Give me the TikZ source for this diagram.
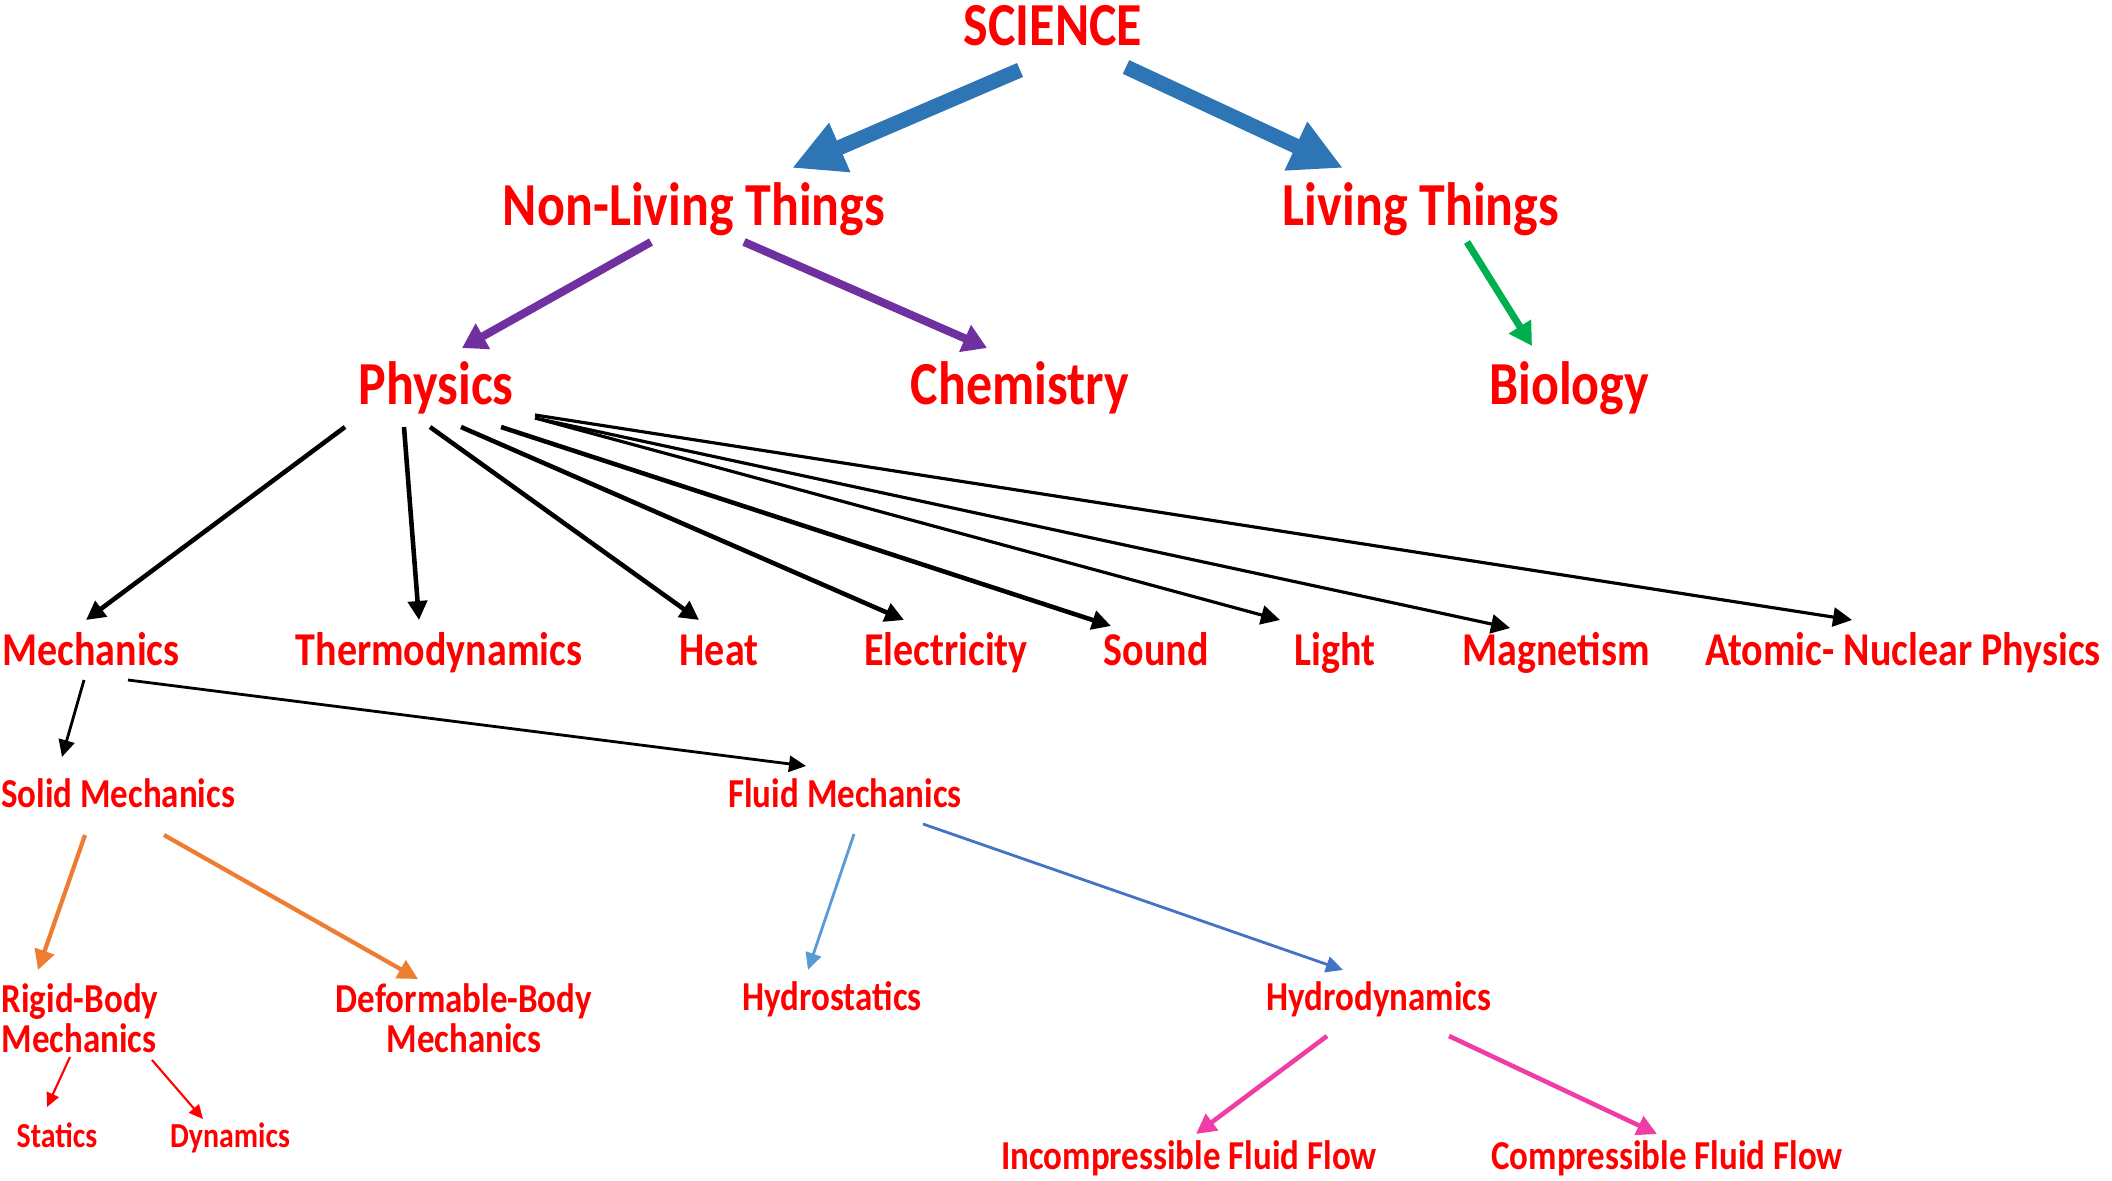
\documentclass[tikz,border=0pt]{standalone}
\usepackage{fontspec}
\newfontfamily\lblfont{Carlito}[FakeStretch=0.85]
\usepackage{xcolor}
\usetikzlibrary{arrows.meta}

\definecolor{txtred}{HTML}{FF0000}
\definecolor{bigblue}{HTML}{2E75B6}
\definecolor{purp}{HTML}{7030A0}
\definecolor{grn}{HTML}{00B050}
\definecolor{orng}{HTML}{ED7D31}
\definecolor{ltblue}{HTML}{5B9BD5}
\definecolor{midblue}{HTML}{4472C4}
\definecolor{pnk}{HTML}{F03CA5}

\begin{document}
\begin{tikzpicture}[x=0.1mm, y=-0.1mm,
    lbl/.style={text=txtred, inner sep=0pt, text height=0.64em, text depth=0pt},
    topl/.style={lbl, text height=0.86em, font=\lblfont\bfseries\fontsize{17.4}{20}\selectfont},
    subl/.style={lbl, text height=0.8em, font=\lblfont\bfseries\fontsize{13.4}{16}\selectfont},
    smll/.style={lbl, text height=0.72em, font=\lblfont\bfseries\fontsize{11.7}{14}\selectfont},
    tinyl/.style={lbl, font=\lblfont\bfseries\fontsize{10}{12}\selectfont},
    twol/.style={text=txtred, inner sep=0pt, font=\lblfont\bfseries\fontsize{11.7}{11.4}\selectfont},
    bigarr/.style={bigblue, line width=4.3pt, -{Triangle[length=5.2mm,width=5mm]}},
    purarr/.style={purp, line width=2.3pt, -{Triangle[length=2.4mm,width=2.8mm]}},
    grnarr/.style={grn, line width=2pt, -{Triangle[length=2.3mm,width=2.5mm]}},
    blkarr/.style={black, line width=1.3pt, -{Triangle[length=1.9mm,width=1.9mm]}},
    thinarr/.style={black, line width=0.9pt, -{Triangle[length=1.9mm,width=1.9mm]}},
    mecharr/.style={black, line width=0.8pt, -{Triangle[length=1.7mm,width=1.6mm]}},
    orgarr/.style={orng, line width=1.2pt, -{Triangle[length=2mm,width=2mm]}},
    lbarr/.style={ltblue, line width=0.8pt, -{Triangle[length=1.7mm,width=1.6mm]}},
    mbarr/.style={midblue, line width=0.8pt, -{Triangle[length=1.7mm,width=1.6mm]}},
    redarr/.style={txtred, line width=0.6pt, -{Triangle[length=1.4mm,width=1.3mm]}},
    pnkarr/.style={pnk, line width=1.3pt, -{Triangle[length=2mm,width=2mm]}}]
    \useasboundingbox (0,0) rectangle (2112,1180);

    % Top levels
    \node[topl] (sci) at (1053,30) {SCIENCE};
    \node[topl] (nonliv) at (694,210) {Non-Living Things};
    \node[topl] (liv) at (1421,210) {Living Things};
    \node[topl] (phys) at (436,389) {Physics};
    \node[topl] (chem) at (1020,389) {Chemistry};
    \node[topl] (bio) at (1569,389) {Biology};

    % Branches of physics
    \node[subl] (mech) at (91,651) {Mechanics};
    \node[subl] (thermo) at (439,651) {Thermodynamics};
    \node[subl] (heat) at (719,651) {Heat};
    \node[subl] (elec) at (946,651) {Electricity};
    \node[subl] (sound) at (1156,651) {Sound};
    \node[subl] (light) at (1335,651) {Light};
    \node[subl] (magn) at (1556,651) {Magnetism};
    \node[subl] (atom) at (1903,651) {Atomic- Nuclear Physics};

    % Mechanics
    \node[smll] (solid) at (118,795) {Solid Mechanics};
    \node[smll] (fluid) at (845,795) {Fluid Mechanics};
    \node[twol, align=left, anchor=west] (rigid) at (1,1018) {Rigid-Body\\Mechanics};
    \node[twol, align=center] (deform) at (464,1018) {Deformable-Body\\Mechanics};
    \node[smll] (hstat) at (832,998) {Hydrostatics};
    \node[smll] (hdyn) at (1379,998) {Hydrodynamics};
    \node[tinyl] (stat) at (57,1136) {Statics};
    \node[tinyl] (dyn) at (230,1136) {Dynamics};
    \node[smll] (incomp) at (1189,1157) {Incompressible Fluid Flow};
    \node[smll] (comp) at (1667,1157) {Compressible Fluid Flow};

    % Arrows
    \draw[bigarr] ([shift={(-33,40)}]sci.center) -- ([shift={(98,-42)}]nonliv.center);
    \draw[bigarr] ([shift={(73,37)}]sci.center) -- ([shift={(-78,-42)}]liv.center);
    \draw[purarr] ([shift={(-43,32)}]nonliv.center) -- ([shift={(26,-41)}]phys.center);
    \draw[purarr] ([shift={(50,32)}]nonliv.center) -- ([shift={(-33,-41)}]chem.center);
    \draw[grnarr] ([shift={(46,32)}]liv.center) -- ([shift={(-37,-43)}]bio.center);

    \draw[blkarr] ([shift={(-91,38)}]phys.center) -- ([shift={(-5,-31)}]mech.center);
    \draw[blkarr] ([shift={(-32,38)}]phys.center) -- ([shift={(-20,-31)}]thermo.center);
    \draw[blkarr] ([shift={(-6,38)}]phys.center) -- ([shift={(-20,-31)}]heat.center);
    \draw[blkarr] ([shift={(25,38)}]phys.center) -- ([shift={(-42,-31)}]elec.center);
    \draw[blkarr] ([shift={(65,38)}]phys.center) -- ([shift={(-45,-25)}]sound.center);
    \draw[thinarr] ([shift={(99,29)}]phys.center) -- ([shift={(-55,-31)}]light.center);
    \draw[thinarr] ([shift={(99,29)}]phys.center) -- ([shift={(-46,-23)}]magn.center);
    \draw[thinarr] ([shift={(99,26)}]phys.center) -- ([shift={(-51,-31)}]atom.center);

    \draw[mecharr] ([shift={(-7,29)}]mech.center) -- ([shift={(-56,-38)}]solid.center);
    \draw[mecharr] ([shift={(37,29)}]mech.center) -- ([shift={(-39,-29)}]fluid.center);
    \draw[orgarr] ([shift={(-33,40)}]solid.center) -- ([shift={(37,-48)}]rigid.west);
    \draw[orgarr] ([shift={(46,40)}]solid.center) -- ([shift={(-46,-39)}]deform.center);
    \draw[lbarr] ([shift={(9,39)}]fluid.center) -- ([shift={(-24,-28)}]hstat.center);
    \draw[mbarr] ([shift={(78,29)}]fluid.center) -- ([shift={(-36,-28)}]hdyn.center);
    \draw[redarr] ([shift={(69,39)}]rigid.west) -- ([shift={(-10,-29)}]stat.center);
    \draw[redarr] ([shift={(151,42)}]rigid.west) -- ([shift={(-27,-17)}]dyn.center);
    \draw[pnkarr] ([shift={(-52,38)}]hdyn.center) -- ([shift={(7,-23)}]incomp.center);
    \draw[pnkarr] ([shift={(70,38)}]hdyn.center) -- ([shift={(-10,-23)}]comp.center);
\end{tikzpicture}
\end{document}
